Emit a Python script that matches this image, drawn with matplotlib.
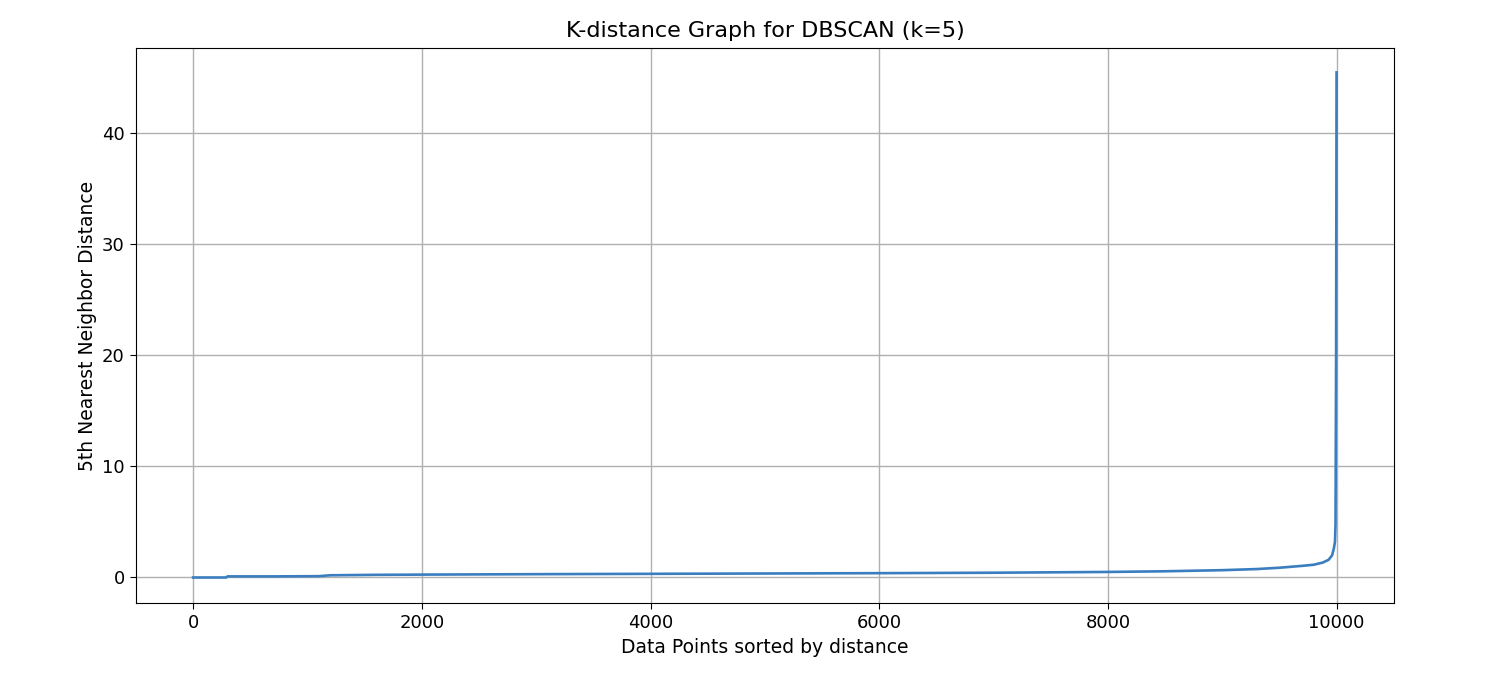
import matplotlib.pyplot as plt

# pontos (índice ordenado, distância ao 5º vizinho)
indices = [0, 290, 300, 700, 1100, 1200, 1600, 2000, 3000, 4000, 5000, 6000,
           7000, 8000, 8500, 9000, 9300, 9500, 9700, 9800, 9880, 9930, 9960,
           9975, 9985, 9990, 9995, 9999]
distancias = [0.0, 0.0, 0.1, 0.1, 0.12, 0.2, 0.24, 0.26, 0.3, 0.33, 0.36, 0.39,
              0.43, 0.5, 0.56, 0.66, 0.76, 0.88, 1.05, 1.15, 1.35, 1.6, 2.0,
              2.6, 3.2, 4.8, 20.0, 45.5]

fig = plt.figure(figsize=(15.02, 6.74), dpi=100)
ax = fig.add_axes([0.0905, 0.1053, 0.8375, 0.8235])

ax.plot(indices, distancias, color='#3a7ec0', linewidth=1.9)

ax.set_title('K-distance Graph for DBSCAN (k=5)', fontsize=16, pad=8)
ax.set_xlabel('Data Points sorted by distance', fontsize=13.5)
ax.set_ylabel('5th Nearest Neighbor Distance', fontsize=13.5)
ax.tick_params(labelsize=13, length=4.5)
ax.set_xlim(-500, 10500)
ax.set_ylim(-2.3, 47.7)
ax.set_xticks([0, 2000, 4000, 6000, 8000, 10000])
ax.set_yticks([0, 10, 20, 30, 40])
ax.grid(True, color='#b0b0b0', linewidth=1.0)

fig.savefig('out.png', dpi=100)
